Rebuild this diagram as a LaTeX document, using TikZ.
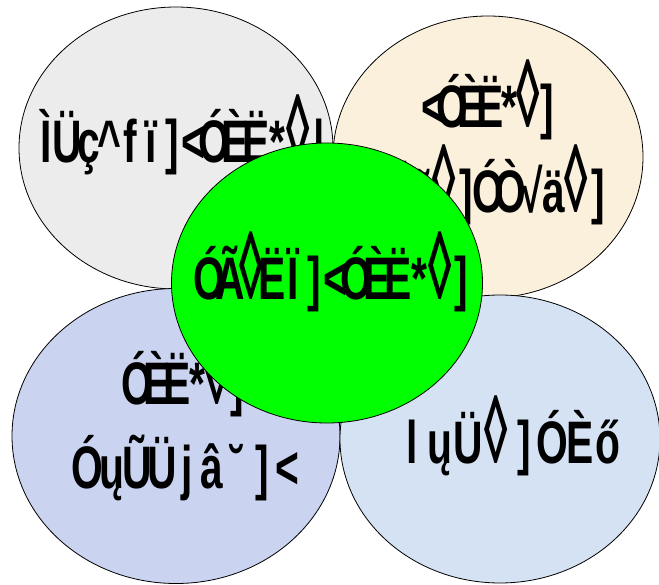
\documentclass[tikz,border=0pt]{standalone}
\usepackage{fontspec}
\setmainfont{Liberation Sans}
\usetikzlibrary{shapes.geometric}
\definecolor{tlgray}{RGB}{236,236,236}
\definecolor{trbeige}{RGB}{251,240,220}
\definecolor{bllav}{RGB}{202,212,240}
\definecolor{brblue}{RGB}{212,226,244}
\definecolor{midgreen}{RGB}{0,255,0}
\newcommand\dia{\scalebox{1.15}[1.6]{◊}}
\makeatletter
\newcommand\gtxt[2]{\@tfor\gch:=#2\do{\makebox[#1][c]{\scalebox{0.68}[1]{\gch}}}}
\makeatother
\begin{document}
\begin{tikzpicture}[x=1pt,y=-1pt,
  blob/.style={ellipse, draw=black, line width=0.8pt, inner sep=0pt},
  lbl/.style={anchor=base, inner sep=0pt, font=\fontsize{60}{64}\selectfont\bfseries}]
\path[use as bounding box] (0,0) rectangle (659,585);
% top left
\node[blob, fill=tlgray, minimum width=314pt, minimum height=282pt] (tl) at (176,148) {};
\node[lbl] (tlt) at (183,163) {\gtxt{21pt}{ÌÜç\textasciicircum fï]<ÓÈË*\dia|}};
% top right
\node[blob, fill=trbeige, minimum width=310pt, minimum height=282pt] (tr) at (488,157) {};
\node[lbl] (trt1) at (490,128) {\gtxt{19pt}{<ÓÈË*\dia]}};
\node[lbl] (trt2) at (488,213) {\gtxt{22pt}{ÌÜẽ\dia]ÓÒ√ä\dia]}};
% bottom left
\node[blob, fill=bllav, minimum width=328pt, minimum height=295pt] (bl) at (176,436) {};
\node[lbl] (blt1) at (187,405) {\gtxt{20pt}{ÓÈË*\dia]}};
\node[lbl] (blt2) at (187,488) {\gtxt{25pt}{ÓųŨÜjâ˘]<}};
% bottom right
\node[blob, fill=brblue, minimum width=320pt, minimum height=288pt] (br) at (500,439) {};
\node[lbl] (brt) at (510,463) {\gtxt{28pt}{lųÜ\dia]ÓÈő}};
% centre
\node[blob, fill=midgreen, minimum width=311pt, minimum height=280pt] (c) at (327,283) {};
\node[lbl] (ct) at (335,300) {\gtxt{21pt}{ÓÃ\dia ËÏ]<ÓÈË*\dia]}};
\end{tikzpicture}
\end{document}
